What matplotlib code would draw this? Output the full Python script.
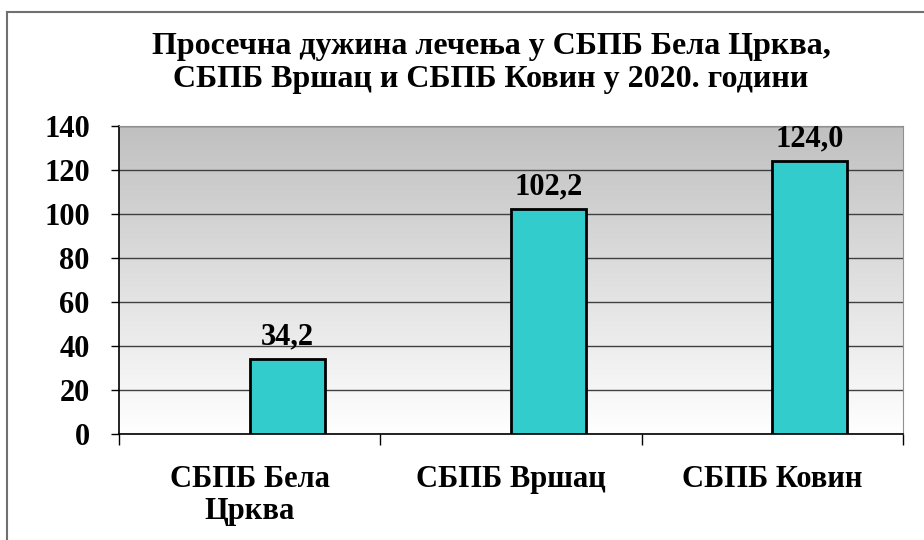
import numpy as np
import matplotlib.pyplot as plt
from matplotlib.colors import LinearSegmentedColormap
from matplotlib.lines import Line2D

plt.rcParams['font.family'] = ['Liberation Serif', 'DejaVu Serif']
plt.rcParams['font.weight'] = 'bold'

categories = ['СБПБ Бела\nЦрква', 'СБПБ Вршац', 'СБПБ Ковин']
values = [34.2, 102.2, 124.0]
value_labels = ['34,2', '102,2', '124,0']
title = 'Просечна дужина лечења у СБПБ Бела Црква,\nСБПБ Вршац и СБПБ Ковин у 2020. години'
yticks = [0, 20, 40, 60, 80, 100, 120, 140]

fig = plt.figure(figsize=(9.24, 5.4), dpi=100)
ax = fig.add_axes([119 / 924, 1 - 434 / 540, (903 - 119) / 924, (434 - 126) / 540])

# градиентный фон области построения
cmap = LinearSegmentedColormap.from_list('bg', ['#FFFFFF', '#C0C0C0'])
grad = np.linspace(0, 1, 256).reshape(-1, 1)
ax.imshow(grad, cmap=cmap, origin='lower', aspect='auto',
          extent=[0, 3, 0, 140], zorder=0)

x = np.arange(len(categories))
width = 0.287
bars = ax.bar(x + 0.5, values, width=width, align='edge', color='#33CCCC',
              edgecolor='black', linewidth=2, zorder=3)
for b, lab in zip(bars, value_labels):
    ax.text(b.get_x() + b.get_width() / 2, b.get_height() + 3.5, lab,
            ha='center', va='bottom', fontsize=22, fontweight='bold', zorder=4)

ax.set_xlim(0, 3)
ax.set_ylim(0, 140)
ax.set_yticks(yticks)
ax.set_yticklabels([str(v) for v in yticks], fontsize=22, fontweight='bold')
ax.yaxis.grid(True, color='#404040', linewidth=1, zorder=1)
ax.set_axisbelow(True)

ax.set_xticks([0, 1, 2, 3])
ax.set_xticklabels([])
ax.set_xticks(x + 0.5, minor=True)
ax.set_xticklabels(categories, minor=True, fontsize=22, fontweight='bold',
                   linespacing=1.15)
ax.tick_params(axis='x', which='minor', length=0, pad=22)
ax.tick_params(axis='x', which='major', length=8, width=1, direction='out', color='black')
ax.tick_params(axis='y', length=6, width=1, direction='out', pad=15)

ax.spines['left'].set_color('black')
ax.spines['bottom'].set_color('black')
ax.spines['top'].set_color('#909090')
ax.spines['right'].set_color('#909090')
ax.spines['left'].set_linewidth(1.2)
ax.spines['bottom'].set_linewidth(1.2)

fig.text(491 / 924, 1 - 63 / 540, title, ha='center', va='center',
         fontsize=23, fontweight='bold', linespacing=1.15)

# рамка диаграммы (видны только верх и левая сторона)
fig.add_artist(Line2D([7 / 924, 7 / 924], [0, 1 - 12 / 540], color='#707070', linewidth=1.5))
fig.add_artist(Line2D([7 / 924, 1], [1 - 12 / 540, 1 - 12 / 540], color='#707070', linewidth=1.5))

fig.savefig('out.png', dpi=100)
